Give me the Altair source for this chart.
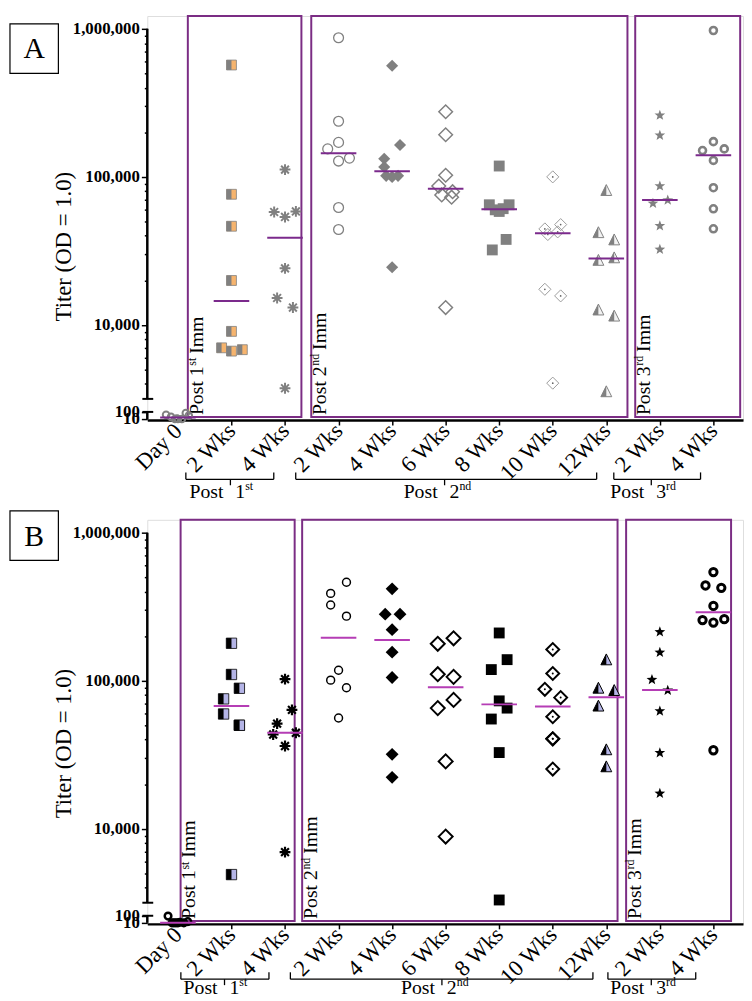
import math
import altair as alt
import pandas as pd

# ---------------- data ----------------
CATEGORIES = ["Day 0", "2 Wks", "4 Wks", "2 Wks", "4 Wks", "6 Wks",
              "8 Wks", "10 Wks", "12Wks", "2 Wks", "4 Wks"]
GROUP_NUMBERS = ["1", "2", "3"]
GROUP_SUFFIXES = ["st", "nd", "rd"]
Y_TICK_VALUES = [1000000, 100000, 10000, 100, 10]
Y_TICK_LABELS = ["1,000,000", "100,000", "10,000", "100", "10"]
Y_MINOR_VALUES = [4000, 5000, 6000, 7000, 8000, 9000,
                  20000, 30000, 40000, 50000, 60000, 70000, 80000, 90000,
                  200000, 300000, 400000, 500000, 600000, 700000, 800000, 900000]
AXIS_TITLE = "Titer (OD = 1.0)"

# Panel A titers and horizontal jitter (px) of each point
A_DAY0 = [40, 20, 10, 10, 10, 70, 30, 12]
A_DAY0_JIT = [-12, -7, -3, 0, 4, 8, 11, -1]
A_P1_2W = [570000, 76300, 46400, 19950, 9040, 7000, 6650, 6800]
A_P1_2W_JIT = [0, 0, 0, 0, 0, -10, 0, 11]
A_P1_4W = [112000, 57900, 53600, 58400, 24100, 15200, 13100, 3730]
A_P1_4W_JIT = [0, -11, 0, 11, 0, -8, 8, 0]
A_P2_2W = [871000, 237700, 171000, 154600, 127900, 133900, 62100, 44100]
A_P2_2W_JIT = [0, 0, 0, -11, 0, 11, 0, 0]
A_P2_4W = [564000, 164400, 132700, 116600, 101600, 101600, 100000, 24500]
A_P2_4W_JIT = [0, 8, -8, -8, -6, 6, 0, 0]
A_P2_6W = [275400, 192600, 102600, 86700, 79400, 75500, 72900, 13100]
A_P2_6W_JIT = [0, 0, 0, -7, 7, -4, 6, 0]
A_P2_8W = [118400, 64800, 64800, 61000, 59900, 58400, 37800, 32100]
A_P2_8W_JIT = [0, -10, 10, 4, -4, 0, 7, -7]
A_P2_10W = [100000, 47600, 44500, 42500, 40800, 17400, 15700, 4040]
A_P2_10W_JIT = [0, 8, -8, 5, -5, -8, 8, 0]
A_P2_12W = [81500, 42300, 37800, 28600, 27500, 12700, 11550, 3560]
A_P2_12W_JIT = [0, -8, 8, 8, -8, -8, 8, 0]
A_P3_2W = [261800, 191700, 87100, 69900, 66500, 46900, 32500]
A_P3_2W_JIT = [0, 0, 0, 8, -7, 0, 0]
A_P3_4W = [975000, 173000, 150600, 154600, 129200, 84500, 60900, 44600]
A_P3_4W_JIT = [0, 0, -11, 11, 0, 0, 0, 0]

# Panel B
B_DAY0 = [90, 10, 10, 12, 10, 15, 10, 10]
B_DAY0_JIT = [-10, -6, -2, 2, 6, 10, 0, -4]
B_P1_2W = [179100, 110200, 88900, 75400, 59600, 50000, 50000, 4900]
B_P1_2W_JIT = [0, 0, 8, -8, -8, 8, 8, 0]
B_P1_4W = [102500, 63600, 51300, 43300, 44500, 36200, 6950]
B_P1_4W_JIT = [0, 7, -8, -12, 11, 0, 0]
B_P2_2W = [462600, 389000, 325000, 273000, 117700, 100900, 89700, 56000]
B_P2_2W_JIT = [8, -8, -8, 8, 0, -8, 8, 0]
B_P2_4W = [417500, 281700, 281700, 221300, 156000, 105200, 31800, 22250]
B_P2_4W_JIT = [0, -7, 8, 0, 0, 0, 0, 0]
B_P2_6W = [193500, 177600, 110700, 106200, 74200, 65300, 28500, 8850]
B_P2_6W_JIT = [8, -8, -8, 8, 8, -8, 0, 0]
B_P2_8W = [210200, 138800, 118900, 73100, 65300, 55100, 32700, 3300]
B_P2_8W_JIT = [0, 8, -8, 0, 8, -8, 0, 0]
B_P2_10W = [162600, 111900, 87500, 76900, 57100, 40500, 40500, 25300]
B_P2_10W_JIT = [0, 0, -8, 8, 0, 0, 0, 0]
B_P2_12W = [139400, 89700, 86500, 67900, 34400, 26400]
B_P2_12W_JIT = [0, -8, 8, -8, 0, 0]
B_P3_2W = [214400, 156000, 102000, 86500, 62600, 32700, 17400]
B_P3_2W_JIT = [0, 0, -8, 8, 0, 0, 0]
B_P3_4W = [542000, 440000, 424000, 320000, 256700, 247300, 260600, 33900]
B_P3_4W_JIT = [0, -8, 8, 0, -11, 0, 11, 0]

A_SERIES = [A_DAY0, A_P1_2W, A_P1_4W, A_P2_2W, A_P2_4W, A_P2_6W, A_P2_8W,
            A_P2_10W, A_P2_12W, A_P3_2W, A_P3_4W]
A_JITTER = [A_DAY0_JIT, A_P1_2W_JIT, A_P1_4W_JIT, A_P2_2W_JIT, A_P2_4W_JIT,
            A_P2_6W_JIT, A_P2_8W_JIT, A_P2_10W_JIT, A_P2_12W_JIT, A_P3_2W_JIT,
            A_P3_4W_JIT]
B_SERIES = [B_DAY0, B_P1_2W, B_P1_4W, B_P2_2W, B_P2_4W, B_P2_6W, B_P2_8W,
            B_P2_10W, B_P2_12W, B_P3_2W, B_P3_4W]
B_JITTER = [B_DAY0_JIT, B_P1_2W_JIT, B_P1_4W_JIT, B_P2_2W_JIT, B_P2_4W_JIT,
            B_P2_6W_JIT, B_P2_8W_JIT, B_P2_10W_JIT, B_P2_12W_JIT, B_P3_2W_JIT,
            B_P3_4W_JIT]

# ---------------- layout / style ----------------
SERIF = "Liberation Serif"
W, H = 603, 409
X_MIN, X_MAX = -0.572, 10.553
Y_LOW, Y_HIGH = 3.357, 6.087          # broken log axis, in decades
BREAK = 3.5
LOW10, LOW100 = 3.364, 3.412          # squeezed 10..100 segment
STEP = W / (X_MAX - X_MIN)
PXD = H / (Y_HIGH - Y_LOW)
HALF_MED = 18 / STEP
BOX_COLOR = "#7b2d84"


def vpos(v):
    lv = math.log10(v)
    return lv if v >= 1000 else LOW10 + (lv - 1) * (LOW100 - LOW10)


def pos_expr(field):
    return (f"datum.{field} >= 1000 ? log(datum.{field}) / LN10 : "
            f"{LOW10} + (log(datum.{field}) / LN10 - 1) * {LOW100 - LOW10:.6f}")


major_pos = [round(vpos(v), 6) for v in Y_TICK_VALUES]
minor_pos = [round(vpos(v), 6) for v in Y_MINOR_VALUES]
Y_LABEL_EXPR = " : ".join(
    f"abs(datum.value - {p}) < 0.0005 ? '{t}'" for p, t in zip(major_pos, Y_TICK_LABELS)) + " : ''"
MAJOR_TEST = " || ".join(f"abs(datum.value - {p}) < 0.0005" for p in major_pos)
X_LABEL_EXPR = "[" + ",".join(f"'{c}'" for c in CATEGORIES) + "][round(datum.value)]"

X_SCALE = alt.Scale(domain=[X_MIN, X_MAX], nice=False, zero=False)
Y_SCALE = alt.Scale(domain=[Y_LOW, Y_HIGH], nice=False, zero=False)

X_AXIS = alt.Axis(values=list(range(len(CATEGORIES))), labelExpr=X_LABEL_EXPR, title=None,
                  grid=False, domainColor="black", domainWidth=2.5, tickColor="black",
                  tickWidth=1.5, tickSize=5,
                  tickOpacity={"condition": {"test": "datum.value == 0", "value": 0}, "value": 1},
                  labelAngle=315, labelAlign="right", labelBaseline="middle", labelFont=SERIF,
                  labelFontSize=23, labelColor="black", labelPadding=2, labelOverlap=False,
                  labelFlush=False, labelBound=False)


def make_y_axis(title_y):
    return alt.Axis(values=sorted(major_pos + minor_pos), labelExpr=Y_LABEL_EXPR, domain=False,
                    grid=False, tickColor="black", tickWidth=1.5,
                    tickSize={"condition": {"test": MAJOR_TEST, "value": 6}, "value": 3},
                    labelFont=SERIF, labelFontSize=17, labelFontWeight="bold",
                    labelColor="black", labelPadding=2, labelOverlap=False, labelFlush=False,
                    title=AXIS_TITLE, titleFont=SERIF, titleFontSize=23, titleFontWeight="normal",
                    titleColor="black", titleX=-85, titleY=title_y, titleAngle=270,
                    titleAlign="center", titleBaseline="middle")


def star_path(n=5, r_in=0.42):
    pts = []
    for i in range(2 * n):
        r = 1.0 if i % 2 == 0 else r_in
        a = -math.pi / 2 + i * math.pi / n
        pts.append(f"{r * math.cos(a):.3f},{r * math.sin(a) + 0.05:.3f}")
    return "M" + "L".join(pts) + "Z"


SQ_LEFT = "M-1,-1L0,-1L0,1L-1,1Z"
TRI = "M0,-1L1,1L-1,1Z"
TRI_LEFT = "M0,-1L0,1L-1,1Z"
AST = "M0,-1L0,1M-1,0L1,0M-0.72,-0.72L0.72,0.72M-0.72,0.72L0.72,-0.72"
STAR = star_path()


def S(shape, size, fill=None, stroke=None, sw=0.0):
    return dict(shape=shape, size=size, fill=fill, stroke=stroke, sw=sw)


G = "#808080"
STYLES_A = [
    [S("circle", 45, None, G, 2.0)],
    [S("square", 100, "#f6b46e", G, 0.8), S(SQ_LEFT, 100, G)],
    [S(AST, 120, None, G, 2.0)],
    [S("circle", 100, None, G, 1.3)],
    [S("diamond", 150, G)],
    [S("diamond", 190, None, G, 1.5)],
    [S("square", 121, G)],
    [S("diamond", 150, None, "#9a9a9a", 1.0), S("circle", 3, "#666666")],
    [S(TRI, 121, "#f2f2f2", G, 1.0), S(TRI_LEFT, 121, G)],
    [S(STAR, 130, G)],
    [S("circle", 50, None, G, 2.6)],
]
K = "#000000"
LAV = "#b4b4e6"
STYLES_B = [
    [S("circle", 45, None, K, 2.5)],
    [S("square", 110, LAV, K, 0.8), S(SQ_LEFT, 110, K)],
    [S(AST, 120, None, K, 2.2)],
    [S("circle", 64, None, K, 1.5)],
    [S("diamond", 170, K)],
    [S("diamond", 200, None, K, 2.0)],
    [S("square", 121, K)],
    [S("diamond", 170, None, K, 2.0), S("circle", 4, K)],
    [S(TRI, 121, LAV, K, 1.0), S(TRI_LEFT, 121, K)],
    [S(STAR, 130, K)],
    [S("circle", 55, None, K, 3.0)],
]
SUP_WIDTH = {"st": 8, "nd": 12, "rd": 10}


def xenc(field):
    return alt.X(f"{field}:Q", scale=X_SCALE, axis=X_AXIS)


def panel(letter, series, jitters, styles, box_l, box_r, br_s, br_e, br_m, med_color,
          lbl_y, brace_dy, text_dy, title_y):
    y_axis = make_y_axis(title_y)

    def yenc(field):
        return alt.Y(f"{field}:Q", scale=Y_SCALE, axis=y_axis)

    rows = []
    for c, (vals, jits) in enumerate(zip(series, jitters)):
        for v, j in zip(vals, jits):
            rows.append({"cat": c, "value": v, "jit": j})
    df = pd.DataFrame(rows)

    layers = []
    boxes = pd.DataFrame({"l": box_l, "r": box_r, "top": [Y_HIGH] * len(box_l),
                          "bot": [Y_LOW + 3 / PXD] * len(box_l)})
    layers.append(alt.Chart(boxes).mark_rect(fill="white", fillOpacity=0, stroke=BOX_COLOR,
                                             strokeWidth=2)
                  .encode(x=xenc("l"), x2="r:Q", y=yenc("top"), y2="bot:Q"))

    # vertical "Post Nth Imm" labels
    base_y = Y_LOW + 5 / PXD
    vt = pd.DataFrame({
        "x": [l + 15 / STEP for l in box_l],
        "xs": [l + 8 / STEP for l in box_l],
        "y": [base_y] * 3,
        "ys": [base_y + 50 / PXD] * 3,
        "yi": [base_y + (50 + SUP_WIDTH[s] + 4) / PXD for s in GROUP_SUFFIXES],
        "num": [f"Post {n}" for n in GROUP_NUMBERS],
        "sup": GROUP_SUFFIXES,
        "imm": ["Imm"] * 3,
    })
    vbase = alt.Chart(vt)
    layers.append(vbase.mark_text(angle=270, align="left", baseline="alphabetic", font=SERIF,
                                  fontSize=20, color="black")
                  .encode(x=xenc("x"), y=yenc("y"), text="num:N"))
    layers.append(vbase.mark_text(angle=270, align="left", baseline="alphabetic", font=SERIF,
                                  fontSize=12, color="black")
                  .encode(x=xenc("xs"), y=yenc("ys"), text="sup:N"))
    layers.append(vbase.mark_text(angle=270, align="left", baseline="alphabetic", font=SERIF,
                                  fontSize=20, color="black")
                  .encode(x=xenc("x"), y=yenc("yi"), text="imm:N"))

    # points
    for c, st_list in enumerate(styles):
        for st in st_list:
            kw = dict(shape=st["shape"], size=st["size"], opacity=1)
            if st["fill"] is not None:
                kw["filled"] = True
                kw["fill"] = st["fill"]
            else:
                kw["filled"] = False
            if st["stroke"] is not None:
                kw["stroke"] = st["stroke"]
                kw["strokeWidth"] = st["sw"]
            else:
                kw["strokeWidth"] = 0
            layers.append(
                alt.Chart(df).transform_filter(f"datum.cat == {c}")
                .transform_calculate(pos=pos_expr("value"), xpos=f"datum.cat + datum.jit / {STEP:.4f}")
                .mark_point(**kw).encode(x=xenc("xpos"), y=yenc("pos")))

    # medians
    layers.append(
        alt.Chart(df).transform_aggregate(med="median(value)", groupby=["cat"])
        .transform_calculate(pos=pos_expr("med"), x1=f"datum.cat - {HALF_MED:.4f}",
                             x2=f"datum.cat + {HALF_MED:.4f}")
        .mark_rule(color=med_color, strokeWidth=2).encode(x=xenc("x1"), x2="x2:Q", y=yenc("pos")))

    # broken y axis line
    segs = pd.DataFrame({"y1": [BREAK, LOW10], "y2": [6.0, LOW100]})
    layers.append(alt.Chart(segs).mark_rule(color="black", strokeWidth=2.5)
                  .encode(x=alt.value(0), y=yenc("y1"), y2="y2:Q"))
    caps = pd.DataFrame({"y": [BREAK, LOW100]})
    layers.append(alt.Chart(caps).mark_rule(color="black", strokeWidth=2)
                  .encode(x=alt.value(-5), x2=alt.value(6), y=yenc("y")))

    # braces and group labels
    br = pd.DataFrame({"s": br_s, "e": br_e, "m": br_m,
                       "xp": [m - 7 / STEP for m in br_m],
                       "xn": [m + 5 / STEP for m in br_m],
                       "xs": [m + 15 / STEP for m in br_m],
                       "post": ["Post"] * 3, "num": GROUP_NUMBERS, "sup": GROUP_SUFFIXES})
    bb = alt.Chart(br)
    by = H + brace_dy
    layers.append(bb.mark_rule(color="black", strokeWidth=1.3)
                  .encode(x=xenc("s"), x2="e:Q", y=alt.value(by)))
    for f in ["s", "e"]:
        layers.append(bb.mark_rule(color="black", strokeWidth=1.3)
                      .encode(x=xenc(f), y=alt.value(by - 7), y2=alt.value(by)))
    layers.append(bb.mark_rule(color="black", strokeWidth=1.3)
                  .encode(x=xenc("m"), y=alt.value(by), y2=alt.value(by + 6)))
    ty = H + text_dy
    layers.append(bb.mark_text(align="right", baseline="alphabetic", font=SERIF, fontSize=20,
                               color="black").encode(x=xenc("xp"), y=alt.value(ty), text="post:N"))
    layers.append(bb.mark_text(align="left", baseline="alphabetic", font=SERIF, fontSize=20,
                               color="black").encode(x=xenc("xn"), y=alt.value(ty), text="num:N"))
    layers.append(bb.mark_text(align="left", baseline="alphabetic", font=SERIF, fontSize=12,
                               color="black").encode(x=xenc("xs"), y=alt.value(ty - 8), text="sup:N"))

    # panel letter
    lab = pd.DataFrame({"t": [letter]})
    layers.append(alt.Chart(lab).mark_rect(fill="white", stroke="black", strokeWidth=1.2)
                  .encode(x=alt.value(-139), x2=alt.value(-90), y=alt.value(lbl_y),
                          y2=alt.value(lbl_y + 50)))
    layers.append(alt.Chart(lab).mark_text(font=SERIF, fontSize=30, color="black",
                                           align="center", baseline="middle")
                  .encode(x=alt.value(-114.5), y=alt.value(lbl_y + 26), text="t:N"))

    return alt.layer(*layers).properties(width=W, height=H)


pa = panel("A", A_SERIES, A_JITTER, STYLES_A,
           [0.185, 2.49, 8.54], [2.306, 8.395, 10.50],
           [0.148, 2.2, 8.14], [1.79, 7.82, 9.76], [0.98, 4.98, 8.84],
           "#7b2a8c", 8, 60, 79, 233)
pb = panel("B", B_SERIES, B_JITTER, STYLES_B,
           [0.05, 2.32, 8.37], [2.18, 8.21, 10.33],
           [0.055, 2.1, 8.03], [1.70, 7.75, 9.67], [0.87, 4.93, 8.84],
           "#b53db5", -9, 56, 71, 226)

chart = alt.vconcat(pa, pb, spacing=6).properties(
    padding={"left": 0, "top": 0, "right": 0, "bottom": 0}
).configure_view(stroke="transparent").configure(background="white")

chart.save("out.html", embed_options={"renderer": "svg", "actions": False})
